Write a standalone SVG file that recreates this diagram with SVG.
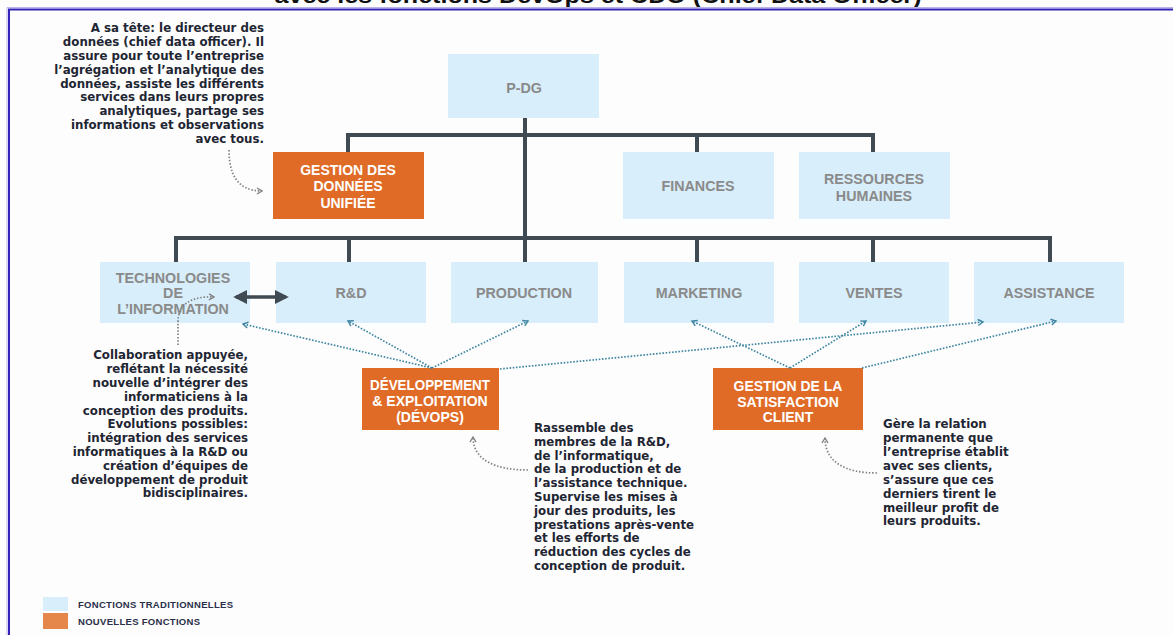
<svg xmlns="http://www.w3.org/2000/svg" width="1173" height="635" viewBox="0 0 1173 635">
<defs>
<style>
.bx{fill:#d8eefa}
.or{fill:#e06b27}
.bt{font-family:"Liberation Sans",Arial,sans-serif;font-weight:700;font-size:14.3px;fill:#8a8a8a;text-anchor:middle}
.ot{font-family:"Liberation Sans",Arial,sans-serif;font-weight:700;font-size:14px;fill:#ffffff;text-anchor:middle}
.an{font-family:"DejaVu Sans","Liberation Sans",sans-serif;font-weight:700;font-size:11.8px;fill:#1f2633}
.tree{stroke:#3f4a52;stroke-width:4;fill:none}
.dot{stroke:#3f86a3;stroke-width:1.7;stroke-dasharray:1.6 1.6;fill:none;marker-end:url(#chev)}
.gdot{stroke:#808080;stroke-width:1.7;stroke-dasharray:1.5 1.8;fill:none}
.lg{font-family:"Liberation Sans",Arial,sans-serif;font-weight:700;font-size:9.5px;letter-spacing:0.3px;fill:#2a2f4a}
</style>
<marker id="chev" viewBox="0 0 8 8" refX="6" refY="4" markerWidth="8" markerHeight="8" markerUnits="userSpaceOnUse" orient="auto">
<path d="M1,1 L6,4 L1,7" fill="none" stroke="#3f86a3" stroke-width="1.4"/>
</marker>
<marker id="gchev" viewBox="0 0 8 8" refX="6" refY="4" markerWidth="8" markerHeight="8" markerUnits="userSpaceOnUse" orient="auto">
<path d="M1,1 L6,4 L1,7" fill="none" stroke="#808080" stroke-width="1.4"/>
</marker>
<marker id="tri" viewBox="0 0 10 10" refX="8" refY="5" markerWidth="14" markerHeight="14" markerUnits="userSpaceOnUse" orient="auto-start-reverse">
<path d="M0,0 L10,5 L0,10 Z" fill="#3f4a52"/>
</marker>
</defs>
<rect x="0" y="0" width="1173" height="635" fill="#fdfdfd"/>
<text x="598" y="3" font-family="Liberation Sans,Arial,sans-serif" font-weight="700" font-size="22" fill="#111" text-anchor="middle" textLength="647" lengthAdjust="spacingAndGlyphs">avec les fonctions DevOps et CDO (Chief Data Officer)</text>
<path d="M9,640 L9,9.5 L1180,9.5" fill="none" stroke="#3322b8" stroke-width="2"/>
<path d="M7,640 L7,7.5 L1180,7.5" fill="none" stroke="#b8b4e8" stroke-width="1"/>

<g id="pdg"><rect class="bx" x="448" y="54" width="151" height="64"/><text class="bt" x="524" y="93">P-DG</text></g>
<g id="gestion-donnees"><rect class="or" x="273" y="152" width="151" height="67"/><text class="ot" x="348" y="175">GESTION DES</text><text class="ot" x="348" y="191">DONNÉES</text><text class="ot" x="348" y="208">UNIFIÉE</text></g>
<g id="finances"><rect class="bx" x="623" y="152" width="151" height="67"/><text class="bt" x="698" y="191">FINANCES</text></g>
<g id="rh"><rect class="bx" x="799" y="152" width="151" height="67"/><text class="bt" x="874" y="184">RESSOURCES</text><text class="bt" x="874" y="201">HUMAINES</text></g>

<g id="ti"><rect class="bx" x="100" y="262" width="150" height="61"/><text class="bt" x="173" y="283">TECHNOLOGIES</text><text class="bt" x="173" y="298">DE</text><text class="bt" x="173" y="314">L’INFORMATION</text></g>
<g id="rd"><rect class="bx" x="276" y="262" width="150" height="61"/><text class="bt" x="351" y="298">R&amp;D</text></g>
<g id="production"><rect class="bx" x="451" y="262" width="147" height="61"/><text class="bt" x="524" y="298">PRODUCTION</text></g>
<g id="marketing"><rect class="bx" x="624" y="262" width="150" height="61"/><text class="bt" x="699" y="298">MARKETING</text></g>
<g id="ventes"><rect class="bx" x="799" y="262" width="150" height="61"/><text class="bt" x="874" y="298">VENTES</text></g>
<g id="assistance"><rect class="bx" x="974" y="262" width="150" height="61"/><text class="bt" x="1049" y="298">ASSISTANCE</text></g>

<g id="devops"><rect class="or" x="362" y="368" width="137" height="62"/><text class="ot" x="430" y="390" textLength="120" lengthAdjust="spacingAndGlyphs">DÉVELOPPEMENT</text><text class="ot" x="430" y="406">&amp; EXPLOITATION</text><text class="ot" x="430" y="422">(DÉVOPS)</text></g>
<g id="satisfaction"><rect class="or" x="713" y="368" width="150" height="62"/><text class="ot" x="788" y="391">GESTION DE LA</text><text class="ot" x="788" y="407">SATISFACTION</text><text class="ot" x="788" y="422">CLIENT</text></g>

<g id="connectors">
<path class="tree" d="M525,118 V262 M348,135 H873 M348,133 V152 M697,135 V152 M873,133 V152 M176,238 H1050 M176,236 V262 M349,238 V262 M697,238 V262 M873,238 V262 M1050,236 V262"/>
<line x1="236" y1="297" x2="286" y2="297" stroke="#3f4a52" stroke-width="3.5" marker-start="url(#tri)" marker-end="url(#tri)"/>
<path class="dot" d="M432,368 L243,324"/>
<path class="dot" d="M432,368 L348,321"/>
<path class="dot" d="M432,368 L528,321"/>
<path class="dot" d="M500,369 L983,322"/>
<path class="dot" d="M790,368 L692,321"/>
<path class="dot" d="M790,368 L866,321"/>
<path class="dot" d="M862,368 L1056,321"/>
<path class="gdot" d="M229,150 C229,172 236,191 262,191" marker-end="url(#gchev)"/>
<path class="gdot" d="M178,345 L178,322 C178,305 190,296 214,297" marker-end="url(#gchev)"/>
<path class="gdot" d="M528,470 C495,470 473,460 473,437" marker-end="url(#gchev)"/>
<path class="gdot" d="M877,473 C845,473 825,462 825,438" marker-end="url(#gchev)"/>
</g>

<g id="note-cdo" class="an" text-anchor="end">
<text x="264" y="32">A sa tête: le directeur des</text>
<text x="264" y="46">données (chief data officer). Il</text>
<text x="264" y="60">assure pour toute l’entreprise</text>
<text x="264" y="74">l’agrégation et l’analytique des</text>
<text x="264" y="88">données, assiste les différents</text>
<text x="264" y="101">services dans leurs propres</text>
<text x="264" y="115">analytiques, partage ses</text>
<text x="264" y="129">informations et observations</text>
<text x="264" y="143">avec tous.</text>
</g>
<g id="note-ti" class="an" text-anchor="end">
<text x="248" y="359">Collaboration appuyée,</text>
<text x="248" y="373">reflétant la nécessité</text>
<text x="248" y="387">nouvelle d’intégrer des</text>
<text x="248" y="401">informaticiens à la</text>
<text x="248" y="415">conception des produits.</text>
<text x="248" y="428">Evolutions possibles:</text>
<text x="248" y="442">intégration des services</text>
<text x="248" y="456">informatiques à la R&amp;D ou</text>
<text x="248" y="470">création d’équipes de</text>
<text x="248" y="484">développement de produit</text>
<text x="248" y="497">bidisciplinaires.</text>
</g>
<g id="note-devops" class="an">
<text x="534" y="432">Rassemble des</text>
<text x="534" y="446">membres de la R&amp;D,</text>
<text x="534" y="460">de l’informatique,</text>
<text x="534" y="473">de la production et de</text>
<text x="534" y="487">l’assistance technique.</text>
<text x="534" y="501">Supervise les mises à</text>
<text x="534" y="515">jour des produits, les</text>
<text x="534" y="529">prestations après-vente</text>
<text x="534" y="542">et les efforts de</text>
<text x="534" y="556">réduction des cycles de</text>
<text x="534" y="570">conception de produit.</text>
</g>
<g id="note-client" class="an">
<text x="883" y="428">Gère la relation</text>
<text x="883" y="442">permanente que</text>
<text x="883" y="456">l’entreprise établit</text>
<text x="883" y="470">avec ses clients,</text>
<text x="883" y="484">s’assure que ces</text>
<text x="883" y="498">derniers tirent le</text>
<text x="883" y="512">meilleur profit de</text>
<text x="883" y="525">leurs produits.</text>
</g>

<g id="legend">
<rect x="43" y="597" width="25" height="14" fill="#d8eefa"/>
<rect x="43" y="613" width="25" height="16" fill="#e5864a"/>
<text class="lg" x="78" y="608">FONCTIONS TRADITIONNELLES</text>
<text class="lg" x="78" y="625">NOUVELLES FONCTIONS</text>
</g>
</svg>
